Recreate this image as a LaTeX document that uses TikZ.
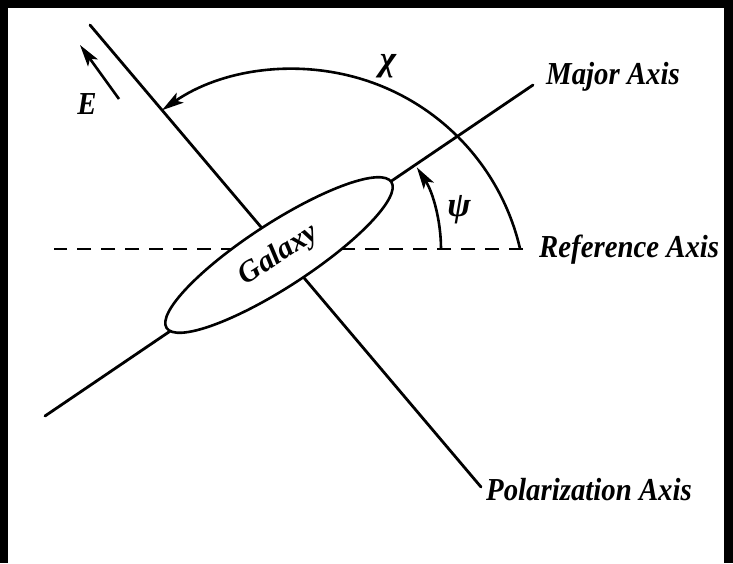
\documentclass[tikz,border=0pt]{standalone}
\usepackage{fontspec}
\setmainfont{Liberation Serif}
\usetikzlibrary{arrows.meta,shapes.geometric}
\tikzset{
  ax/.style={line width=2.8pt, line cap=round},
  refax/.style={line width=2.8pt, dash pattern=on 14pt off 10pt},
  arcline/.style={line width=2.6pt},
  tip/.style={-{Stealth[length=22pt,width=12pt,inset=5pt]}},
  lab/.style={font=\fontsize{32}{32}\selectfont\bfseries\itshape, inner sep=0pt, xscale=0.9},
  greek/.style={font=\fontsize{35}{35}\selectfont\bfseries\itshape, inner sep=0pt}
}
\begin{document}
\begin{tikzpicture}[x=1pt,y=-1pt]
\useasboundingbox (0,0) rectangle (733,563);
% black frame
\fill[black] (0,0) rectangle (733,8);
\fill[black] (0,0) rectangle (8,563);
\fill[black] (724,0) rectangle (733,563);
% axes
\coordinate (refR) at (523,249);
\coordinate (refL) at (54,249);
\coordinate (polT) at (90,25);
\coordinate (polB) at (481,487);
\coordinate (majL) at (45,416);
\coordinate (majR) at (533,85);
\draw[refax] (refR) -- (refL);
\draw[ax] (polT) -- (polB);
\draw[ax] (majL) -- (majR);
% galaxy
\node[draw, line width=2.6pt, fill=white, ellipse, minimum width=268pt, minimum height=64pt,
      inner sep=0pt, rotate=33, font=\fontsize{30}{30}\selectfont\bfseries\itshape] (gal) at (279,255) {Galaxy};
% chi arc
\coordinate (chiS) at (520.1,249);
\draw[arcline, tip] (chiS) arc[start angle=-12.95, end angle=-124.7, radius=232];
\node[greek] (chi) at (388,66) {χ};
% psi arc
\coordinate (psiS) at (441,249);
\draw[arcline, tip] (psiS) arc[start angle=0, end angle=-33, radius=150];
\node[greek] (psi) at (459,210) {ψ};
% E vector
\coordinate (eT) at (119,99);
\coordinate (eH) at (80,45);
\draw[arcline, tip] (eT) -- (eH);
\node[lab, anchor=center] (E) at (87,104) {E};
% labels
\node[lab, anchor=base west] (maj) at (546,84) {Major Axis};
\node[lab, anchor=base west] (ref) at (539,257) {Reference Axis};
\node[lab, anchor=base west] (pol) at (486,500) {Polarization Axis};
\end{tikzpicture}
\end{document}
